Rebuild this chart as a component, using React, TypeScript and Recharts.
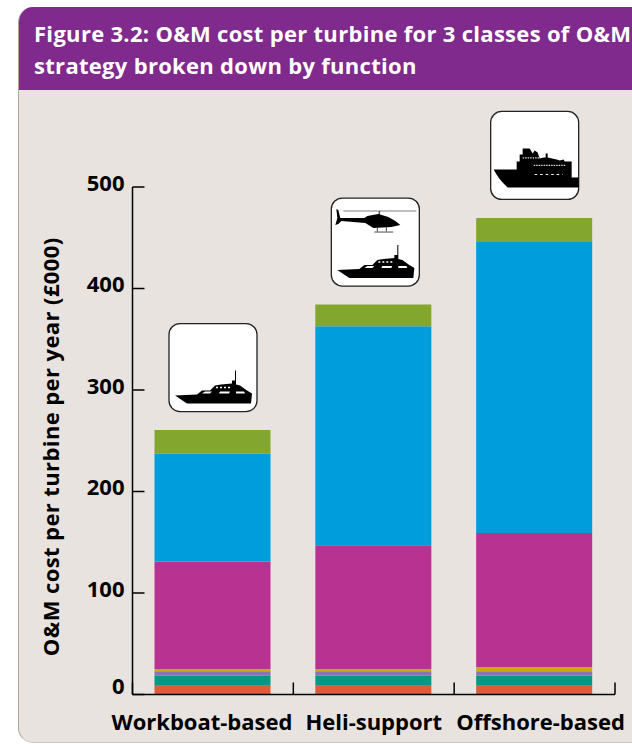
import { BarChart, Bar, XAxis, YAxis, LabelList, Label } from 'recharts';

const categories = ['Workboat-based', 'Heli-support', 'Offshore-based'];
const yTicks = [0, 100, 200, 300, 400, 500];
// the edges axis runs over the row indices 0..2, so these fall between the bars
const edgeTicks = [0, 2 / 3, 4 / 3, 2];

// stacked from the axis upwards, £000 per turbine per year
const repairs = [8.5, 8.5, 8.5];
const transfer = [10, 10, 10];
const logistics = [4.5, 4.5, 4.5];
const training = [2, 2, 4];
const maintenance = [106, 122, 132];
const vessels = [106.5, 215.7, 287.5];
const overheads = [23, 21.5, 23];

const seriesList = [
  { key: 'repairs', values: repairs, color: '#DC5B38' },
  { key: 'transfer', values: transfer, color: '#009880' },
  { key: 'logistics', values: logistics, color: '#8B72B5' },
  { key: 'training', values: training, color: '#C8AC0A' },
  { key: 'maintenance', values: maintenance, color: '#B83291' },
  { key: 'vessels', values: vessels, color: '#009DDC' },
  { key: 'overheads', values: overheads, color: '#82A62E' },
];

const chartData = categories.map((name, i) => {
  const row: Record<string, string | number> = { name };
  seriesList.forEach((s) => {
    row[s.key] = s.values[i];
  });
  return row;
});

const FONT = '"Open Sans", sans-serif';

const YACHT =
  'M6 72 L28 71 L33 67 L41 67 L46 62 L52 61 L63 60 L63 57 L66 57 L66 47 L67 47 L67 61 L71 62 L78 67 L83 70 L82 80 L18 80 Z';
const YACHT_WINDOWS = ['M33 70 L41 70 L43 68 L36 68 Z', 'M50 70 L60 70 L61 68 L51 68 Z', 'M67 70 L76 70 L75 68 L67 68 Z'];

function Yacht() {
  return (
    <g>
      <path d={YACHT} fill="#000" />
      {YACHT_WINDOWS.map((d) => (
        <path key={d} d={d} fill="#fff" />
      ))}
      <path d="M47 64 h2 M51 64 h2 M55 64 h2 M59 64 h2" stroke="#fff" strokeWidth={1.5} />
    </g>
  );
}

function Helicopter() {
  return (
    <g>
      <path d="M12 13 H85" stroke="#aaa" strokeWidth={1.5} />
      <path d="M48 13 V18" stroke="#555" strokeWidth={1.5} />
      <path
        d="M5 11 L7 12 L9 20 L33 20 L36 18 L47 16 L57 19 L64 23 L69 27 L60 29 L42 30 L34 25 L10 23 L7 26 L4 27 L6 20 Z"
        fill="#000"
      />
      <path d="M46 29 V34 M55 29 V34" stroke="#444" strokeWidth={1} />
      <path d="M43 34 H62" stroke="#888" strokeWidth={1.5} />
    </g>
  );
}

function Ship() {
  return (
    <g>
      <path
        d="M3 58 L26 58 L26 50 L29 50 L29 43 L32 43 L32 37 L39 37 L42 42 L44 39 L47 41 L49 47 L53 46 L55 46 L55 42 L57 42 L57 46 L66 48 L69 49 L73 48 L74 50 L81 50 L81 66 L88 66 L88 76 L17 76 Q8 68 3 58 Z"
        fill="#000"
      />
      <path d="M32 46.5 H49" stroke="#ddd" strokeWidth={1.2} strokeDasharray="1.5 1" />
      <path d="M43 54 H75" stroke="#ddd" strokeWidth={1.2} strokeDasharray="1.5 1" />
      <path d="M44 63 H72" stroke="#fff" strokeWidth={1} strokeDasharray="2.5 3" />
    </g>
  );
}

// white badge sitting just above the stack, one per operating strategy
function VesselBadge(props: any) {
  const { x, y, width, index } = props;
  const left = x + width / 2 - 43.5 + (index === 1 ? 1.5 : 0);
  const top = y - 18.5 - 88;
  return (
    <g transform={`translate(${left},${top})`}>
      <rect x={0} y={0} width={88} height={88} rx={11} fill="#fff" stroke="#222" strokeWidth={1.3} />
      {index === 0 && <Yacht />}
      {index === 1 && <Helicopter />}
      {index === 1 && <Yacht />}
      {index === 2 && <Ship />}
    </g>
  );
}

function YTick(props: any) {
  const { x, y, payload } = props;
  return (
    <text
      x={x}
      y={y + (payload.value === 0 ? -10 : -5.5)}
      textAnchor="end"
      dominantBaseline="central"
      fontFamily={FONT}
      fontWeight={700}
      fontSize={22}
      fill="#000"
    >
      {payload.value}
    </text>
  );
}

function XTick(props: any) {
  const { x, payload, index } = props;
  const shift = index === 0 ? -11 : index === 2 ? 6 : 0;
  return (
    <text
      x={x + shift}
      y={721}
      textAnchor="middle"
      dominantBaseline="central"
      fontFamily={FONT}
      fontWeight={700}
      fontSize={22}
      fill="#000"
    >
      {payload.value}
    </text>
  );
}

const NoLabel = () => <g />;

export default function App() {
  return (
    <div style={{ position: 'absolute', left: 0, top: 0, width: 632, height: 744, background: '#fff', overflow: 'hidden' }}>
      <div
        style={{
          position: 'absolute',
          left: 18,
          top: 7,
          width: 640,
          height: 736,
          boxSizing: 'border-box',
          background: '#E8E3DF',
          borderLeft: '1.5px solid #AFA79F',
          borderBottom: '1px solid #CFC9C3',
          borderRadius: 15,
          overflow: 'hidden',
        }}
      >
        <div
          style={{
            height: 83,
            marginLeft: -2,
            background: '#7F2A8C',
            color: '#fff',
            fontFamily: FONT,
            fontWeight: 700,
            fontSize: 22,
            letterSpacing: 0.3,
            lineHeight: '32px',
            padding: '10px 0 0 17px',
            boxSizing: 'border-box',
            whiteSpace: 'nowrap',
          }}
        >
          Figure 3.2: O&amp;M cost per turbine for 3 classes of O&amp;M
          <br />
          strategy broken down by function
        </div>
      </div>
      <div style={{ position: 'absolute', left: 0, top: 0 }}>
        <BarChart
          width={632}
          height={744}
          data={chartData}
          barSize={116}
          margin={{ top: 187, right: 17, left: 0, bottom: 0 }}
          style={{ overflow: 'visible' }}
        >
          <XAxis
            dataKey="name"
            height={49.5}
            interval={0}
            axisLine={{ stroke: '#000', strokeWidth: 1.5 }}
            tickLine={false}
            tick={<XTick />}
          />
          <XAxis
            xAxisId="edges"
            type="number"
            mirror
            allowDataOverflow
            ticks={edgeTicks}
            tick={<NoLabel />}
            tickSize={12}
            axisLine={false}
            tickLine={{ stroke: '#000', strokeWidth: 1.5 }}
          />
          <YAxis
            width={132.5}
            domain={[0, 500]}
            ticks={yTicks}
            axisLine={{ stroke: '#000', strokeWidth: 1.5 }}
            tickLine={false}
            tickMargin={0}
            tickSize={8}
            tick={<YTick />}
          >
            <Label
              value="O&M cost per turbine per year (£000)"
              angle={-90}
              position="insideLeft"
              dx={46}
              dy={6}
              style={{ fontFamily: FONT, fontWeight: 700, fontSize: 22, letterSpacing: 0.4, fill: '#000', textAnchor: 'middle' }}
            />
          </YAxis>
          <YAxis
            yAxisId="inner"
            mirror
            allowDataOverflow
            domain={[0, 500]}
            ticks={yTicks}
            tick={<NoLabel />}
            tickSize={12}
            axisLine={false}
            tickLine={{ stroke: '#000', strokeWidth: 1.5 }}
          />
          {seriesList.map((s) => (
            <Bar key={s.key} dataKey={s.key} stackId="cost" fill={s.color} isAnimationActive={false}>
              {s.key === 'overheads' && <LabelList dataKey={s.key} content={<VesselBadge />} />}
            </Bar>
          ))}
        </BarChart>
      </div>
    </div>
  );
}
